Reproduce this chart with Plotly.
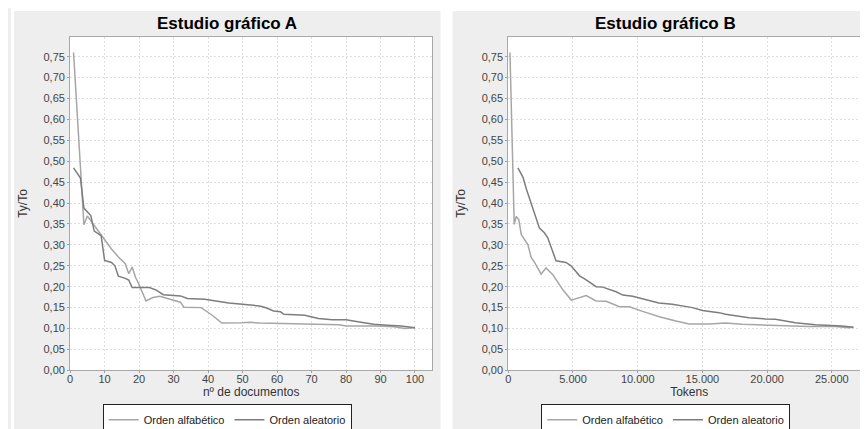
import plotly.graph_objects as go

# ---- data ----
docs_alfa_A = [1, 4, 5, 7, 9, 10, 12, 14, 16, 17, 18, 19, 20, 22, 24, 26, 28, 30, 32, 33, 38, 41, 44, 50, 52, 55, 60, 70, 78, 80, 89, 94, 97, 100]
ttr_alfa_A = [0.76, 0.348, 0.369, 0.346, 0.322, 0.313, 0.29, 0.271, 0.255, 0.231, 0.247, 0.222, 0.205, 0.166, 0.174, 0.177, 0.172, 0.167, 0.163, 0.151, 0.15, 0.133, 0.113, 0.114, 0.115, 0.113, 0.112, 0.109, 0.109, 0.106, 0.106, 0.104, 0.1, 0.102]

docs_alea_A = [1, 3, 4, 6, 7, 9, 10, 12, 13, 14, 16, 17, 18, 23, 25, 26, 27, 32, 34, 39, 43, 46, 50, 55, 57, 59, 61, 62, 68, 70, 72, 76, 80, 83, 86, 88, 92, 96, 100]
ttr_alea_A = [0.484, 0.46, 0.388, 0.37, 0.333, 0.322, 0.263, 0.258, 0.25, 0.225, 0.22, 0.216, 0.198, 0.198, 0.192, 0.186, 0.181, 0.178, 0.172, 0.17, 0.165, 0.161, 0.158, 0.154, 0.149, 0.142, 0.14, 0.134, 0.132, 0.128, 0.124, 0.121, 0.121, 0.117, 0.113, 0.11, 0.108, 0.106, 0.102]

tok_alfa_B = [130, 460, 615, 820, 1000, 1250, 1520, 1770, 2030, 2540, 2920, 3460, 4230, 4870, 5510, 6020, 6790, 7560, 8590, 9360, 10380, 11670, 12950, 13970, 15520, 16790, 18070, 20640, 23200, 25260, 26280, 26670]
ttr_alfa_B = [0.76, 0.349, 0.368, 0.36, 0.325, 0.313, 0.3, 0.27, 0.258, 0.23, 0.245, 0.228, 0.192, 0.168, 0.175, 0.179, 0.166, 0.165, 0.152, 0.152, 0.141, 0.128, 0.118, 0.111, 0.111, 0.113, 0.11, 0.107, 0.105, 0.105, 0.102, 0.103]

tok_alea_B = [745, 1130, 1385, 1770, 2100, 2410, 2790, 3050, 3690, 4460, 4850, 5510, 5900, 6280, 6790, 7300, 7950, 8330, 8850, 9620, 10350, 11130, 11640, 12670, 13460, 14230, 15000, 16280, 16790, 17820, 18590, 19870, 20640, 22180, 23720, 25770, 26670]
ttr_alea_B = [0.484, 0.462, 0.435, 0.4, 0.369, 0.34, 0.329, 0.317, 0.262, 0.258, 0.25, 0.226, 0.219, 0.211, 0.2, 0.199, 0.192, 0.188, 0.18, 0.177, 0.171, 0.166, 0.161, 0.158, 0.154, 0.15, 0.143, 0.138, 0.134, 0.13, 0.126, 0.123, 0.122, 0.114, 0.109, 0.106, 0.103]

titles = ["Estudio gráfico A", "Estudio gráfico B"]
x_titles = ["nº de documentos", "Tokens"]
y_title = "Ty/To"
series_names = ["Orden alfabético", "Orden aleatorio"]

# ---- layout helpers (pixel -> paper) ----
W, H = 868, 429
def px(x):
    return x / W
def py(y):
    return 1 - y / H

FONT = "Liberation Sans, Arial, sans-serif"
c_alfa = "#a6a6a6"
c_alea = "#7d7d7d"

fig = go.Figure()

fig.add_trace(go.Scatter(x=docs_alfa_A, y=ttr_alfa_A, mode="lines", name=series_names[0],
                         line=dict(color=c_alfa, width=1.5), xaxis="x", yaxis="y", legend="legend"))
fig.add_trace(go.Scatter(x=docs_alea_A, y=ttr_alea_A, mode="lines", name=series_names[1],
                         line=dict(color=c_alea, width=1.5), xaxis="x", yaxis="y", legend="legend"))
fig.add_trace(go.Scatter(x=tok_alfa_B, y=ttr_alfa_B, mode="lines", name=series_names[0],
                         line=dict(color=c_alfa, width=1.5), xaxis="x2", yaxis="y2", legend="legend2"))
fig.add_trace(go.Scatter(x=tok_alea_B, y=ttr_alea_B, mode="lines", name=series_names[1],
                         line=dict(color=c_alea, width=1.5), xaxis="x2", yaxis="y2", legend="legend2"))

axis_common = dict(showline=True, linecolor="#a8a8a8", linewidth=1, mirror=True,
                   showgrid=True, gridcolor="#dedede", griddash="2px,2px", gridwidth=1,
                   ticks="outside", ticklen=2, tickcolor="#a0a0a0",
                   tickfont=dict(family=FONT, size=11, color="#444444"),
                   zeroline=False)
title_font = dict(family=FONT, size=12, color="#333333")

A_L, A_R, B_L, B_R, P_T, P_B = 59.3, 422.7, 499, 862, 29, 367.5
ydom = [py(P_B), py(P_T)]
fig.update_layout(
    width=W, height=H,
    margin=dict(l=0, r=0, t=0, b=0),
    paper_bgcolor="#eeeeee", plot_bgcolor="#ffffff",
    separators=",.",
    font=dict(family=FONT, size=11, color="#333333"),
    xaxis=dict(domain=[px(A_L), px(A_R)], range=[0, 105], dtick=10, anchor="y",
               ticklabelstandoff=-4,
               title=dict(text=x_titles[0], font=title_font, standoff=3),
               **axis_common),
    yaxis=dict(domain=ydom, range=[0, 0.798], dtick=0.05, tickformat=".2f", anchor="x",
               title=dict(text=y_title, font=title_font, standoff=13),
               **axis_common),
    xaxis2=dict(domain=[px(B_L), px(B_R)], range=[0, 27950], dtick=5000, tickformat=",d", anchor="y2",
                ticklabelstandoff=-4,
                title=dict(text=x_titles[1], font=title_font, standoff=3),
                **axis_common),
    yaxis2=dict(domain=ydom, range=[0, 0.798], dtick=0.05, tickformat=".2f", anchor="x2",
                title=dict(text=y_title, font=title_font, standoff=13),
                **axis_common),
    legend=dict(orientation="h", x=px(217), y=py(417.5), xanchor="center", yanchor="middle",
                bgcolor="white", bordercolor="#222222", borderwidth=1,
                font=dict(family=FONT, size=11, color="#222222"), itemwidth=30,
                tracegroupgap=0),
    legend2=dict(orientation="h", x=px(657), y=py(417.5), xanchor="center", yanchor="middle",
                 bgcolor="white", bordercolor="#222222", borderwidth=1,
                 font=dict(family=FONT, size=11, color="#222222"), itemwidth=30,
                 tracegroupgap=0),
    showlegend=True,
)

# white plot areas, referenced to each subplot (drawn below its gridlines)
for xr, yr in [("x domain", "y domain"), ("x2 domain", "y2 domain")]:
    fig.add_shape(type="rect", xref=xr, yref=yr, x0=0, x1=1, y0=0, y1=1,
                  fillcolor="#ffffff", line=dict(width=0), layer="below")

# white gaps around/between the two grey panels
for x0, x1, y0, y1 in [(0, W, 0, 3), (0, 3, 0, H), (431, 443, 0, H)]:
    fig.add_shape(type="rect", xref="paper", yref="paper", x0=px(x0), x1=px(x1), y0=py(y1), y1=py(y0),
                  fillcolor="white", line=dict(width=0), layer="below")

# titles
for t, cx in zip(titles, [217, 657]):
    fig.add_annotation(text="<b>%s</b>" % t, xref="paper", yref="paper", x=px(cx), y=py(16),
                       xanchor="center", yanchor="middle", showarrow=False,
                       font=dict(family=FONT, size=17, color="#000000"))

fig.write_html("out.html")
